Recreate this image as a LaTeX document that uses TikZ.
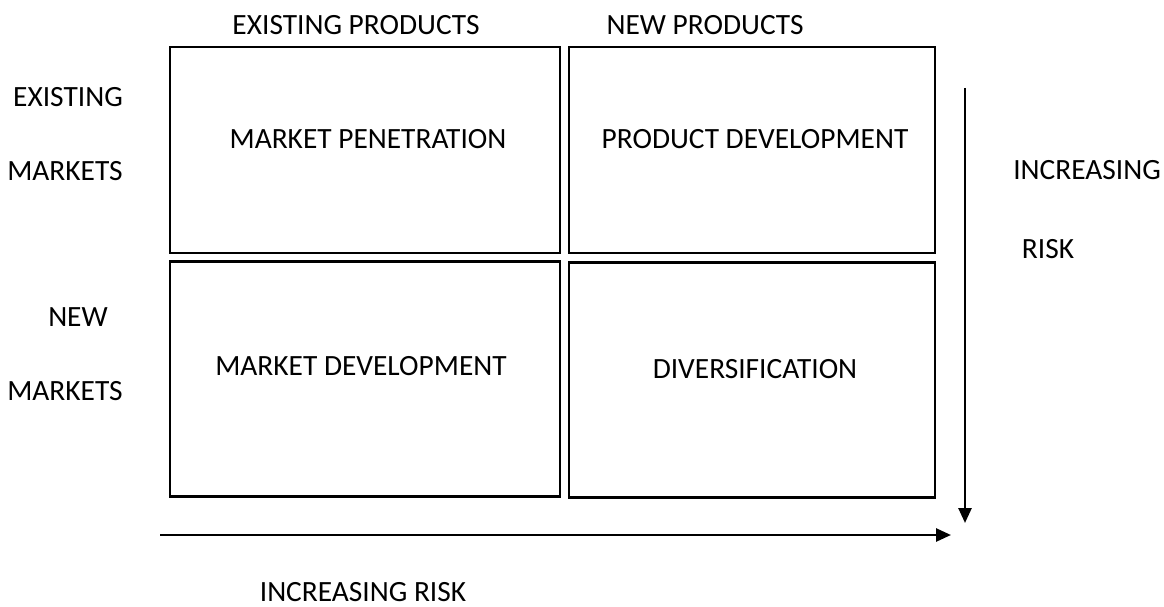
\documentclass[tikz,border=0pt]{standalone}
\usepackage{fontspec}
\setmainfont{Carlito}
\usetikzlibrary{arrows.meta}
\begin{document}
\begin{tikzpicture}[x=1pt,y=-1pt,
  cell/.style={draw,line width=2.6pt,inner sep=0pt},
  lbl/.style={inner sep=0pt,font=\fontsize{29.4}{35}\selectfont},
  riskarrow/.style={line width=2.6pt,-{Triangle[length=15pt,width=13pt]}}]
\useasboundingbox (0,0) rectangle (1164,607);
% quadrant boxes
\node[cell,minimum width=390pt,minimum height=206pt] (mp) at (365,150) {};
\node[cell,minimum width=366pt,minimum height=206pt] (pd) at (752,150) {};
\node[cell,minimum width=390pt,minimum height=235pt] (md) at (365,379) {};
\node[cell,minimum width=366pt,minimum height=235pt] (dv) at (752,380) {};
% quadrant names
\node[lbl] (tmp) at (368,139) {MARKET PENETRATION};
\node[lbl] (tpd) at (755,139) {PRODUCT DEVELOPMENT};
\node[lbl] (tmd) at (361,366) {MARKET DEVELOPMENT};
\node[lbl] (tdv) at (755,369) {DIVERSIFICATION};
% column headings
\node[lbl] (ep) at (356,25) {EXISTING PRODUCTS};
\node[lbl] (np) at (705,25) {NEW PRODUCTS};
% row headings
\node[lbl] (em1) at (68,97) {EXISTING};
\node[lbl] (em2) at (65,171) {MARKETS};
\node[lbl] (nm1) at (78,317) {NEW};
\node[lbl] (nm2) at (65,391) {MARKETS};
% risk labels
\node[lbl] (ir1) at (1087,170) {INCREASING};
\node[lbl] (ir2) at (1048,249) {RISK};
\node[lbl] (ir3) at (363,592) {INCREASING RISK};
% risk arrows
\coordinate (vs) at (965,88);
\coordinate (ve) at (965,523);
\coordinate (hs) at (160,535);
\coordinate (he) at (951,535);
\draw[riskarrow] (vs) -- (ve);
\draw[riskarrow] (hs) -- (he);
\end{tikzpicture}
\end{document}
